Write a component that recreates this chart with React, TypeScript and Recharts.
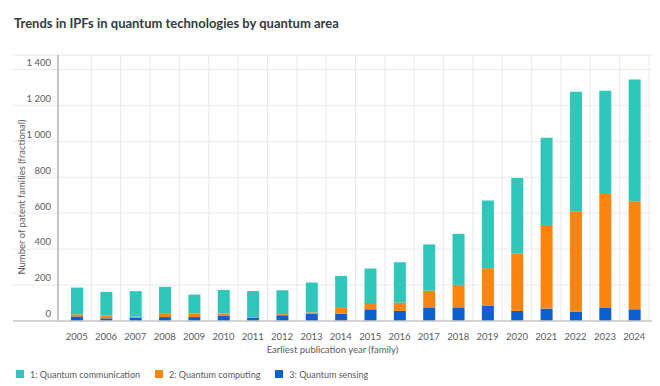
import { Bar, BarChart, CartesianGrid, Legend, XAxis, YAxis } from "recharts";

// Values (fractional patent family counts).
const years = [
  "2005", "2006", "2007", "2008", "2009", "2010", "2011", "2012", "2013", "2014",
  "2015", "2016", "2017", "2018", "2019", "2020", "2021", "2022", "2023", "2024",
];
const sensing = [25, 15, 19, 22, 22, 28, 19, 32, 41, 41, 65, 56, 76, 76, 84, 56, 69, 52, 73, 65];
const computing = [12, 15, 5, 22, 20, 13, 3, 6, 7, 32, 35, 46, 93, 125, 210, 320, 465, 558, 634, 601];
const communication = [149, 132, 142, 146, 105, 132, 145, 133, 166, 178, 192, 225, 257, 284, 377, 420, 485, 666, 574, 678];
const yTicks = [0, 200, 400, 600, 800, 1000, 1200, 1400, 1480];

const TEAL = "#2fc7b9";
const ORANGE = "#fb850f";
const BLUE = "#0d5ecf";
const GRID = "#e9e9e9";
const TEXT = "#5a5a5a";
const FONT = "Lato, 'Open Sans', sans-serif";

// bands start right of the y-axis line, which sits a bit inside the grid
const PAD_L = 49;
const PAD_R = 3;
const AXIS_GAP = 45;

const fmt = (v: number) => {
  if (v === 1480) return "";
  if (v >= 1000) return `${Math.floor(v / 1000)}\u202f${String(v % 1000).padStart(3, "0")}`;
  return String(v);
};

// legend in reading order (communication first), small squares
function LegendRow({ payload }: any) {
  const items = [...(payload || [])].sort((a: any, b: any) => String(a.value).localeCompare(String(b.value)));
  return (
    <div
      style={{
        display: "flex",
        alignItems: "center",
        height: 25,
        boxSizing: "border-box",
        paddingTop: 1,
        fontSize: 9,
        color: TEXT,
        fontFamily: FONT,
      }}
    >
      {items.map((it: any) => (
        <div key={it.value} style={{ display: "flex", alignItems: "center", marginRight: 15 }}>
          <span style={{ width: 8, height: 8, background: it.color, marginRight: 6, display: "inline-block" }} />
          <span>{it.value}</span>
        </div>
      ))}
    </div>
  );
}

export default function App() {
  const data = years.map((year, i) => ({
    year,
    sensing: sensing[i],
    computing: computing[i],
    communication: communication[i],
  }));

  return (
    <div style={{ position: "absolute", left: 0, top: 0, width: 660, height: 386, background: "#fff", fontFamily: FONT }}>
      <div
        style={{
          position: "absolute",
          left: 14,
          top: 15,
          fontSize: 13,
          fontWeight: 700,
          color: "#333a40",
          whiteSpace: "nowrap",
        }}
      >
        Trends in IPFs in quantum technologies by quantum area
      </div>
      <BarChart
        width={660}
        height={386}
        data={data}
        margin={{ top: 55, right: 8, bottom: 0, left: 0 }}
        barSize={12}
        style={{ fontFamily: FONT }}
      >
        <CartesianGrid
          stroke={GRID}
          verticalCoordinatesGenerator={({ offset }: any) => {
            const bw = (offset.width - PAD_L - PAD_R) / years.length;
            return years.map((_, i) => offset.left + PAD_L + (i + 1) * bw);
          }}
        />
        <CartesianGrid
          horizontal={false}
          stroke="#c3c3c3"
          strokeWidth={2}
          verticalCoordinatesGenerator={({ offset }: any) => [offset.left + AXIS_GAP]}
        />
        <XAxis
          dataKey="year"
          padding={{ left: PAD_L, right: PAD_R }}
          height={40}
          tickLine={false}
          axisLine={{ stroke: "#c8c8c8", strokeWidth: 1.5 }}
          tick={{ fill: TEXT, fontSize: 9.5 }}
          tickMargin={6}
          interval={0}
          label={{ value: "Earliest publication year (family)", position: "insideBottom", offset: 8, fill: TEXT, fontSize: 9.5 }}
        />
        <YAxis
          width={13}
          domain={[0, 1480]}
          ticks={yTicks}
          tickFormatter={fmt}
          tickLine={false}
          axisLine={false}
          tickSize={0}
          tickMargin={-38}
          tick={{ fill: TEXT, fontSize: 9.5, dy: -7 }}
          label={{
            value: "Number of patent families (fractional)",
            angle: -90,
            position: "center",
            dx: 15,
            dy: 9,
            fill: TEXT,
            fontSize: 9.5,
          }}
        />
        <Legend
          verticalAlign="bottom"
          align="left"
          height={25}
          content={<LegendRow />}
          wrapperStyle={{ left: 16, bottom: 0, height: 25 }}
        />
        <Bar dataKey="sensing" name="3: Quantum sensing" stackId="a" fill={BLUE} isAnimationActive={false} />
        <Bar dataKey="computing" name="2: Quantum computing" stackId="a" fill={ORANGE} isAnimationActive={false} />
        <Bar dataKey="communication" name="1: Quantum communication" stackId="a" fill={TEAL} isAnimationActive={false} />
      </BarChart>
    </div>
  );
}
